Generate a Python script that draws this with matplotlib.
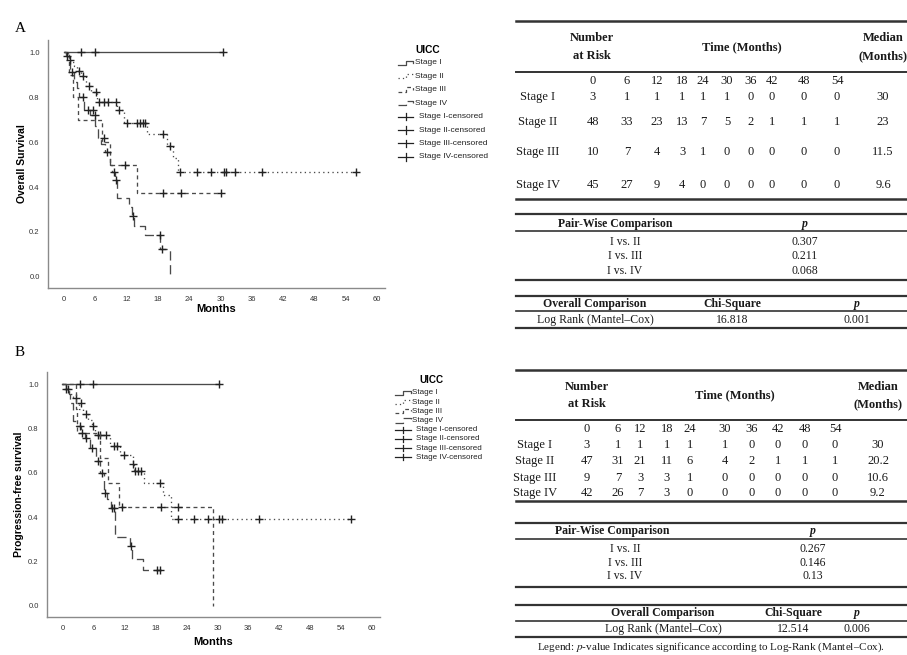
import matplotlib
matplotlib.use('Agg')
import matplotlib.pyplot as plt
from matplotlib.lines import Line2D

plt.rcParams['font.family'] = ['Liberation Sans', 'DejaVu Sans']
plt.rcParams['mathtext.fontset'] = 'stix'

# ---------------- data : panel A, overall survival ----------------
os_s1_t = [0]
os_s1_s = [1.0]
os_s1_end = 30.4
os_s1_ct = [3.4, 5.9, 30.4]
os_s1_cs = [1.0, 1.0, 1.0]

os_s2_t = [0, 0.8, 1.3, 2.0, 2.6, 3.4, 4.2, 5.3, 6.4, 10.3, 11.5, 16.0, 19.8, 20.9, 21.8]
os_s2_s = [1.0, 0.979, 0.958, 0.938, 0.918, 0.894, 0.85, 0.825, 0.78, 0.743, 0.686, 0.634, 0.582, 0.53, 0.465]
os_s2_end = 55.9
os_s2_ct = [2.85, 3.7, 4.8, 6.1, 6.8, 7.7, 8.5, 10.0, 10.6, 12.2, 14.0, 14.6, 15.1, 15.5,
            19.0, 20.3, 22.2, 25.5, 28.2, 30.7, 31.1, 32.8, 38.0, 55.9]
os_s2_cs = [0.918, 0.894, 0.85, 0.825, 0.78, 0.78, 0.78, 0.78, 0.743, 0.686, 0.686, 0.686, 0.686, 0.686,
            0.634, 0.582, 0.465, 0.465, 0.465, 0.465, 0.465, 0.465, 0.465, 0.465]

os_s3_t = [0, 1.0, 1.8, 2.7, 7.3, 8.9, 14.1]
os_s3_s = [1.0, 0.9, 0.8, 0.7, 0.6, 0.5, 0.375]
os_s3_end = 30.1
os_s3_ct = [11.7, 19.1, 22.5, 30.1]
os_s3_cs = [0.5, 0.375, 0.375, 0.375]

os_s4_t = [0, 0.5, 1.0, 1.3, 1.9, 2.5, 3.0, 3.9, 5.0, 5.9, 6.6, 7.2, 8.0, 8.8, 9.3, 9.8,
           10.2, 12.5, 13.0, 13.4, 15.6, 18.5, 20.3]
os_s4_s = [1.0, 0.985, 0.968, 0.914, 0.87, 0.84, 0.80, 0.745, 0.72, 0.67, 0.617, 0.59, 0.557, 0.50, 0.465, 0.431,
           0.35, 0.31, 0.27, 0.227, 0.186, 0.124, 0.0]
os_s4_end = 20.3
os_s4_ct = [0.7, 1.3, 1.5, 3.7, 4.6, 5.6, 6.0, 7.8, 8.3, 9.7, 10.0, 13.3, 18.4, 18.9]
os_s4_cs = [0.985, 0.968, 0.914, 0.80, 0.745, 0.745, 0.72, 0.617, 0.557, 0.465, 0.431, 0.27, 0.186, 0.124]

# ---------------- data : panel B, progression-free survival ----------------
pfs_s1_t = [0]
pfs_s1_s = [1.0]
pfs_s1_end = 30.4
pfs_s1_ct = [3.4, 5.9, 30.4]
pfs_s1_cs = [1.0, 1.0, 1.0]

pfs_s2_t = [0, 0.7, 1.3, 2.0, 2.6, 3.2, 4.0, 5.0, 5.8, 6.3, 9.2, 11.2, 13.6, 13.9, 15.8, 19.4, 21.1]
pfs_s2_s = [1.0, 0.979, 0.958, 0.937, 0.913, 0.89, 0.865, 0.84, 0.81, 0.77, 0.72, 0.682, 0.64, 0.61, 0.556, 0.5, 0.39]
pfs_s2_end = 55.9
pfs_s2_ct = [2.7, 3.5, 4.6, 6.0, 6.9, 7.3, 8.4, 9.9, 10.6, 12.0, 13.7, 14.1, 14.6, 15.2,
             18.9, 22.4, 25.4, 28.1, 30.4, 30.8, 38.0, 55.9]
pfs_s2_cs = [0.937, 0.913, 0.865, 0.81, 0.77, 0.77, 0.77, 0.72, 0.72, 0.682, 0.64, 0.61, 0.61, 0.61,
             0.556, 0.39, 0.39, 0.39, 0.39, 0.39, 0.39, 0.39]

pfs_s3_t = [0, 2.6, 2.9, 7.3, 8.8, 10.9, 29.1]
pfs_s3_s = [1.0, 0.889, 0.778, 0.667, 0.556, 0.444, 0.0]
pfs_s3_end = 29.1
pfs_s3_ct = [11.5, 19.1, 22.4]
pfs_s3_cs = [0.444, 0.444, 0.444]

pfs_s4_t = [0, 0.6, 1.2, 1.5, 2.0, 2.7, 3.6, 4.3, 5.3, 6.4, 7.3, 8.0, 8.6, 9.3, 10.2, 13.0, 13.4, 15.5]
pfs_s4_s = [1.0, 0.98, 0.955, 0.917, 0.835, 0.81, 0.78, 0.757, 0.712, 0.655, 0.60, 0.51, 0.48, 0.44,
            0.31, 0.27, 0.21, 0.16]
pfs_s4_end = 19.0
pfs_s4_ct = [0.7, 1.0, 3.4, 3.8, 4.5, 5.8, 6.9, 7.7, 8.2, 9.6, 9.9, 13.2, 18.4, 18.9]
pfs_s4_cs = [0.98, 0.98, 0.81, 0.78, 0.757, 0.712, 0.655, 0.6, 0.51, 0.44, 0.44, 0.27, 0.16, 0.16]

# ---------------- data : tables ----------------
risk_times = [0, 6, 12, 18, 24, 30, 36, 42, 48, 54]
stage_names = ['Stage I', 'Stage II', 'Stage III', 'Stage IV']
os_risk = [[3, 1, 1, 1, 1, 1, 0, 0, 0, 0],
           [48, 33, 23, 13, 7, 5, 2, 1, 1, 1],
           [10, 7, 4, 3, 1, 0, 0, 0, 0, 0],
           [45, 27, 9, 4, 0, 0, 0, 0, 0, 0]]
os_median = ['30', '23', '11.5', '9.6']
pfs_risk = [[3, 1, 1, 1, 1, 1, 0, 0, 0, 0],
            [47, 31, 21, 11, 6, 4, 2, 1, 1, 1],
            [9, 7, 3, 3, 1, 0, 0, 0, 0, 0],
            [42, 26, 7, 3, 0, 0, 0, 0, 0, 0]]
pfs_median = ['30', '20.2', '10.6', '9.2']
pair_labels = ['I vs. II', 'I vs. III', 'I vs. IV']
os_pair_p = ['0.307', '0.211', '0.068']
pfs_pair_p = ['0.267', '0.146', '0.13']
os_chisq, os_pval = '16.818', '0.001'
pfs_chisq, pfs_pval = '12.514', '0.006'

legend_labels = ['Stage I', 'Stage II', 'Stage III', 'Stage IV',
                 'Stage I-censored', 'Stage II-censored', 'Stage III-censored', 'Stage IV-censored']

W, H = 907, 655
fig = plt.figure(figsize=(W / 100, H / 100), dpi=100)


def fx(x):
    return x / W


def fy(y):
    return 1 - y / H


line_col = '#4a4a4a'
styles = ['-', (0, (1, 2.5)), (0, (3, 2.5)), (0, (7, 3.5))]


def km_panel(rect, curves, ylabel, ylab_x, xlab_y):
    ax = fig.add_axes(rect)
    for (t, s, end, ct, cs), ls in zip(curves, styles):
        ax.step(t + [end], s + [s[-1]], where='post', color=line_col, lw=0.95, linestyle=ls)
        ax.plot(ct, cs, linestyle='none', marker='+', ms=5.5, mew=1.0, color='#222222')
    ax.set_xlim(-3.0, 61.5)
    ax.set_ylim(-0.05, 1.055)
    ax.set_xticks(range(0, 61, 6))
    ax.set_yticks([0.0, 0.2, 0.4, 0.6, 0.8, 1.0])
    ax.set_yticklabels(['0.0', '0.2', '0.4', '0.6', '0.8', '1.0'])
    ax.tick_params(length=0, labelsize=5.5, colors='#333333', pad=6)
    for sp in ['top', 'right']:
        ax.spines[sp].set_visible(False)
    for sp in ['left', 'bottom']:
        ax.spines[sp].set_color('#8a8a8a')
        ax.spines[sp].set_linewidth(1.0)
    ax.set_xlabel('Months', fontsize=8, fontweight='bold')
    ax.set_ylabel(ylabel, fontsize=7.5, fontweight='bold')
    ax.yaxis.set_label_coords(ylab_x, 0.5)
    ax.xaxis.set_label_coords(0.5, xlab_y)
    return ax


km_panel([fx(48), fy(288), (385 - 48) / W, (288 - 40) / H],
         [(os_s1_t, os_s1_s, os_s1_end, os_s1_ct, os_s1_cs),
          (os_s2_t, os_s2_s, os_s2_end, os_s2_ct, os_s2_cs),
          (os_s3_t, os_s3_s, os_s3_end, os_s3_ct, os_s3_cs),
          (os_s4_t, os_s4_s, os_s4_end, os_s4_ct, os_s4_cs)],
         'Overall Survival', -0.062, -0.066)

km_panel([fx(47), fy(617), (380 - 47) / W, (617 - 372) / H],
         [(pfs_s1_t, pfs_s1_s, pfs_s1_end, pfs_s1_ct, pfs_s1_cs),
          (pfs_s2_t, pfs_s2_s, pfs_s2_end, pfs_s2_ct, pfs_s2_cs),
          (pfs_s3_t, pfs_s3_s, pfs_s3_end, pfs_s3_ct, pfs_s3_cs),
          (pfs_s4_t, pfs_s4_s, pfs_s4_end, pfs_s4_ct, pfs_s4_cs)],
         'Progression-free survival', -0.068, -0.08)

serif = ['Liberation Serif', 'DejaVu Serif']
fig.text(fx(15), fy(28), 'A', family=serif, fontsize=11, va='center')
fig.text(fx(15), fy(352), 'B', family=serif, fontsize=11, va='center')


# legend next to each plot, drawn by hand like SPSS
def legend(tx, ty, x0, x1, xt, y0, dy, fs, ch):
    fig.text(fx(tx), fy(ty), 'UICC', fontsize=fs + 1.3, fontweight='bold', ha='center', va='center')
    for i, lab in enumerate(legend_labels):
        y = y0 + i * dy
        if i < 4:
            xs = [x0, x0 + (x1 - x0) * 0.5, x0 + (x1 - x0) * 0.5, x1, x1]
            ys = [y + 2, y + 2, y - 2.5, y - 2.5, y]
            fig.add_artist(Line2D([fx(v) for v in xs], [fy(v) for v in ys], color=line_col, lw=0.9,
                                  linestyle=styles[i]))
            fig.text(fx(xt), fy(y), lab, fontsize=fs, va='center', color='#222222')
        else:
            fig.add_artist(Line2D([fx(x0), fx(x1)], [fy(y), fy(y)], color='#222222', lw=0.9))
            fig.add_artist(Line2D([fx((x0 + x1) / 2)] * 2, [fy(y - ch), fy(y + ch)], color='#222222', lw=0.9))
            fig.text(fx(xt + 4), fy(y), lab, fontsize=fs, va='center', color='#222222')


legend(428, 50, 398, 413, 415, 63, 13.4, 6, 3.8)
legend(431, 380, 395, 411, 412, 393, 9.2, 5.8, 3.0)

tab_col = '#333333'


def hline(y, lw, x0=516, x1=907):
    fig.add_artist(Line2D([fx(x0), fx(x1)], [fy(y), fy(y)], color=tab_col, lw=lw))


def ttext(x, y, s, bold=False, italic=False, size=9):
    fig.text(fx(x), fy(y), s, family=serif, fontsize=size, ha='center', va='center',
             fontweight='bold' if bold else 'normal', fontstyle='italic' if italic else 'normal',
             color='#1a1a1a')


def draw_tables(lay, risk, median, pair_p, chisq, pval):
    # number at risk table
    hline(lay['top'], 1.8)
    hline(lay['sep'], 1.4)
    hline(lay['bot'], 1.8)
    ttext(lay['num_x'], lay['h1'], 'Number', bold=True)
    ttext(lay['num_x'], lay['h2'], 'at Risk', bold=True)
    ttext(lay['time_x'], (lay['h1'] + lay['h2']) / 2, 'Time (Months)', bold=True)
    ttext(lay['med_x'], lay['h1'], 'Median', bold=True)
    ttext(lay['med_x'], lay['h2'], '(Months)', bold=True)
    for x, t in zip(lay['cols'], risk_times):
        ttext(x, lay['colrow'], str(t))
    for r, name in enumerate(stage_names):
        y = lay['rows'][r]
        ttext(lay['stage_x'], y, name)
        for x, v in zip(lay['cols'], risk[r]):
            ttext(x, y, str(v))
        ttext(lay['med_x'], y, median[r])
    # pair-wise table
    hline(lay['pw_top'], 1.6)
    hline(lay['pw_sep'], 1.2)
    hline(lay['pw_bot'], 1.6)
    ttext(lay['pw_head_x'], lay['pw_head'], 'Pair-Wise Comparison', bold=True, size=8.5)
    ttext(lay['pw_p_x'], lay['pw_head'], 'p', bold=True, italic=True, size=8.5)
    for y, lab, p in zip(lay['pw_rows'], pair_labels, pair_p):
        ttext(lay['pw_lab_x'], y, lab, size=8.5)
        ttext(lay['pw_p_x'], y, p, size=8.5)
    # overall table
    hline(lay['ov_top'], 1.6)
    hline(lay['ov_sep'], 1.2)
    hline(lay['ov_bot'], 1.6)
    ox = lay['ov_x']
    ttext(ox[0], lay['ov_head'], 'Overall Comparison', bold=True, size=8.5)
    ttext(ox[1], lay['ov_head'], 'Chi-Square', bold=True, size=8.5)
    ttext(ox[2], lay['ov_head'], 'p', bold=True, italic=True, size=8.5)
    ttext(ox[0], lay['ov_row'], 'Log Rank (Mantel\u2013Cox)', size=8.5)
    ttext(ox[1], lay['ov_row'], chisq, size=8.5)
    ttext(ox[2], lay['ov_row'], pval, size=8.5)


lay_a = dict(top=21, h1=38, h2=56, sep=72, colrow=81, rows=[97, 122, 152, 185], bot=199,
             cols=[593, 627, 657, 682, 703, 727, 751, 772, 804, 837], med_x=883, stage_x=538,
             num_x=592, time_x=742,
             pw_top=214, pw_head=224, pw_sep=231, pw_rows=[242, 256, 271], pw_bot=280,
             pw_lab_x=625, pw_head_x=615, pw_p_x=805,
             ov_top=296, ov_head=304, ov_sep=311, ov_row=320, ov_bot=328, ov_x=[595, 732, 857])

lay_b = dict(top=370, h1=387, h2=404, sep=420, colrow=429, rows=[445, 461, 478, 493], bot=501,
             cols=[587, 618, 640, 667, 690, 725, 752, 778, 805, 835], med_x=878, stage_x=535,
             num_x=587, time_x=735,
             pw_top=523, pw_head=531, pw_sep=539, pw_rows=[549, 563, 576], pw_bot=587,
             pw_lab_x=625, pw_head_x=612, pw_p_x=813,
             ov_top=605, ov_head=613, ov_sep=621, ov_row=629, ov_bot=637, ov_x=[663, 793, 857])

draw_tables(lay_a, os_risk, os_median, os_pair_p, os_chisq, os_pval)
draw_tables(lay_b, pfs_risk, pfs_median, pfs_pair_p, pfs_chisq, pfs_pval)

fig.text(fx(711), fy(647), 'Legend: $p$-value Indicates significance according to Log-Rank (Mantel\u2013Cox).',
         family=serif, fontsize=8, ha='center', va='center', color='#1a1a1a')

fig.savefig('out.png', dpi=100)
